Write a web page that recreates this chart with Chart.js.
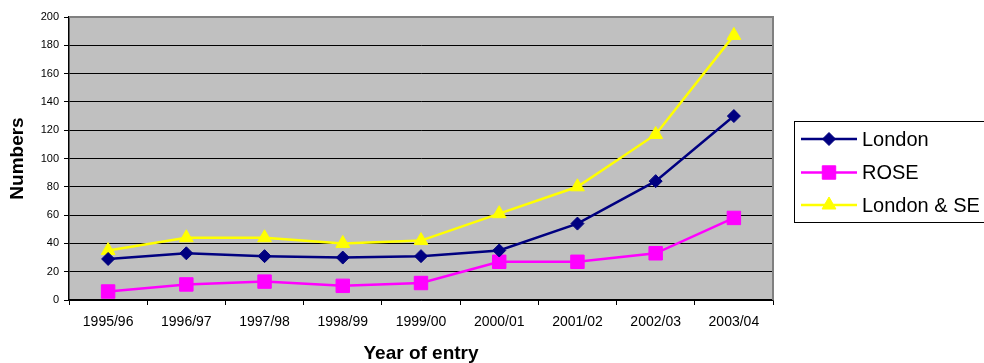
<!DOCTYPE html>
<html>
<head>
<meta charset="utf-8">
<title>Year of entry</title>
<script src="https://cdn.jsdelivr.net/npm/chart.js@4/dist/chart.umd.min.js"></script>
<style>
  html, body { margin: 0; padding: 0; background: #ffffff; }
  canvas { display: block; }
</style>
</head>
<body>
<canvas id="chart" width="984" height="363"></canvas>
<script>
// Intake numbers by year of entry
const years = ['1995/96', '1996/97', '1997/98', '1998/99', '1999/00', '2000/01', '2001/02', '2002/03', '2003/04'];
const london = [29, 33, 31, 30, 31, 35, 54, 84, 130];
const rose = [6, 11, 13, 10, 12, 27, 27, 33, 58];
const londonSE = [35, 44, 44, 40, 42, 61, 80, 117, 187];
const yTicks = [0, 20, 40, 60, 80, 100, 120, 140, 160, 180, 200];

const FONT = "'Liberation Sans', Arial, Helvetica, sans-serif";

// Grey plot background behind the data
const plotBackground = {
  id: 'plotBackground',
  beforeDraw(chart) {
    const { ctx, chartArea: a } = chart;
    ctx.save();
    ctx.fillStyle = '#c0c0c0';
    ctx.fillRect(a.left, a.top, a.right - a.left, a.bottom - a.top);
    ctx.restore();
  }
};

// Grey frame on the top and right edges of the plot
const plotFrame = {
  id: 'plotFrame',
  afterDraw(chart) {
    const { ctx, chartArea: a } = chart;
    ctx.save();
    ctx.strokeStyle = '#808080';
    ctx.lineWidth = 2;
    ctx.beginPath();
    ctx.moveTo(a.left, a.top);
    ctx.lineTo(a.right, a.top);
    ctx.lineTo(a.right, a.bottom);
    ctx.stroke();
    ctx.restore();
  }
};

// Boxed legend with a line sample and marker for each series
const boxedLegend = {
  id: 'boxedLegend',
  afterDraw(chart) {
    const { ctx } = chart;
    const box = { x: 794.5, y: 121.5, w: 200, h: 101 };
    const rows = [139, 172.5, 205];
    ctx.save();
    ctx.strokeStyle = '#000000';
    ctx.lineWidth = 1;
    ctx.strokeRect(box.x, box.y, box.w, box.h);
    chart.data.datasets.forEach((ds, i) => {
      const y = rows[i];
      ctx.strokeStyle = ds.borderColor;
      ctx.lineWidth = ds.borderWidth;
      ctx.beginPath();
      ctx.moveTo(801, y);
      ctx.lineTo(857, y);
      ctx.stroke();
      ctx.fillStyle = ds.pointBackgroundColor;
      ctx.strokeStyle = ds.pointBorderColor;
      ctx.lineWidth = ds.pointBorderWidth;
      Chart.helpers.drawPoint(ctx, {
        pointStyle: ds.pointStyle,
        radius: ds.pointRadius,
        rotation: 0,
        borderWidth: ds.pointBorderWidth
      }, 829, y);
      ctx.fillStyle = '#000000';
      ctx.font = '20px ' + FONT;
      ctx.textBaseline = 'middle';
      ctx.textAlign = 'left';
      ctx.fillText(ds.label, 862, y + 1);
    });
    ctx.restore();
  }
};

function series(label, data, color, style, radius) {
  return {
    label, data,
    borderColor: color,
    backgroundColor: color,
    borderWidth: 2.5,
    pointStyle: style,
    pointRadius: radius,
    pointHoverRadius: radius,
    pointBackgroundColor: color,
    pointBorderColor: color,
    pointBorderWidth: 1,
    tension: 0,
    fill: false
  };
}

new Chart(document.getElementById('chart'), {
  type: 'line',
  data: {
    labels: years,
    datasets: [
      series('London', london, '#000080', 'rectRot', 6.5),
      series('ROSE', rose, '#ff00ff', 'rect', 9.5),
      series('London & SE', londonSE, '#ffff00', 'triangle', 8)
    ]
  },
  plugins: [plotBackground, plotFrame, boxedLegend],
  options: {
    responsive: false,
    devicePixelRatio: 1,
    animation: false,
    events: [],
    layout: { padding: { top: 17, right: 211, left: 0, bottom: 0 } },
    plugins: {
      legend: { display: false },
      tooltip: { enabled: false },
      title: { display: false }
    },
    scales: {
      x: {
        type: 'category',
        offset: true,
        afterFit(scale) { scale.height = 63; },
        grid: {
          offset: true,
          drawOnChartArea: false,
          drawTicks: true,
          tickLength: 5,
          color: '#000000',
          lineWidth: 1
        },
        border: { display: true, color: '#000000', width: 1.5 },
        ticks: {
          color: '#000000',
          font: { family: FONT, size: 14 },
          padding: 9,
          maxRotation: 0,
          autoSkip: false
        },
        title: {
          display: true,
          text: 'Year of entry',
          color: '#000000',
          font: { family: FONT, size: 19, weight: 'bold' },
          padding: { top: 0, bottom: -2 }
        }
      },
      y: {
        min: 0,
        max: 200,
        afterFit(scale) { scale.width = 69; },
        afterBuildTicks(scale) { scale.ticks = yTicks.map(v => ({ value: v })); },
        grid: {
          color: '#000000',
          lineWidth: 1,
          drawTicks: true,
          tickLength: 5
        },
        border: { display: true, color: '#000000', width: 1.5 },
        ticks: {
          color: '#000000',
          font: { family: FONT, size: 11 },
          padding: 5
        },
        title: {
          display: true,
          text: 'Numbers',
          color: '#000000',
          font: { family: FONT, size: 19, weight: 'bold' },
          padding: { top: 6, bottom: 0 }
        }
      }
    }
  }
});
</script>
</body>
</html>
